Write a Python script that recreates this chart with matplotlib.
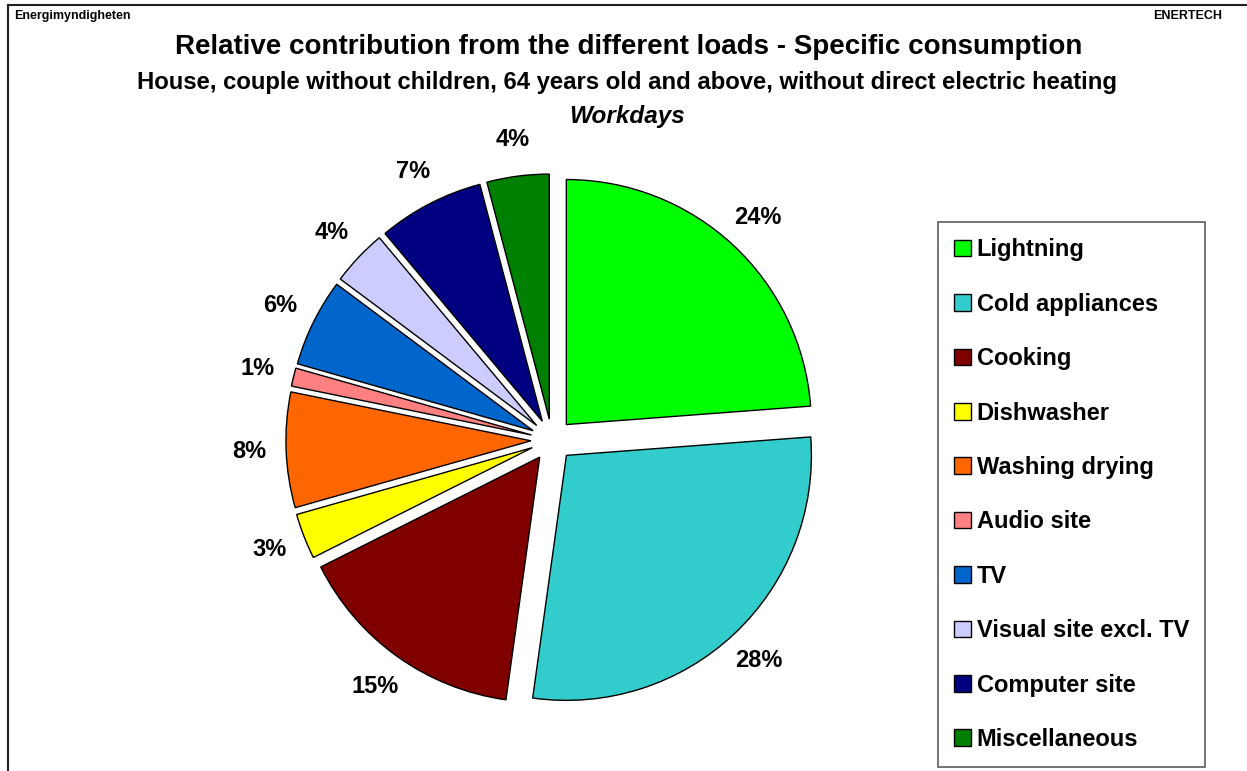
import numpy as np
import matplotlib.pyplot as plt
from matplotlib.lines import Line2D

plt.rcParams['font.family'] = ['Liberation Sans', 'DejaVu Sans']

loads = ['Lightning', 'Cold appliances', 'Cooking', 'Dishwasher', 'Washing drying',
         'Audio site', 'TV', 'Visual site excl. TV', 'Computer site', 'Miscellaneous']
# slice sizes (labels show them rounded)
shares = [23.8, 28.4, 15.4, 3.0, 7.6, 1.2, 5.8, 3.7, 7.0, 4.1]
load_colors = ['#00FF00', '#33CCCC', '#800000', '#FFFF00', '#FF6600',
               '#FF8080', '#0066CC', '#CCCCFF', '#000080', '#008000']

W, H = 1247, 771
fig = plt.figure(figsize=(W / 100, H / 100), dpi=100)

# pie centre ~ (552, 440) px, radius ~245 px
cx, cy, half = 552, 440, 300
ax = fig.add_axes([(cx - half) / W, (H - cy - half) / H, 2 * half / W, 2 * half / H])

wedges, texts, autotexts = ax.pie(
    shares, colors=load_colors, startangle=90, counterclock=False,
    explode=[0.086] * len(shares), radius=1,
    autopct='%.0f%%', pctdistance=1.15,
    wedgeprops=dict(edgecolor='black', linewidth=1.0),
    textprops=dict(fontsize=17, fontweight='bold', color='black'))

# pie() resets the limits, so set them afterwards
lim = half / 245
ax.set_xlim(-lim, lim)
ax.set_ylim(-lim, lim)
ax.set_aspect('equal')
ax.axis('off')

# titles
fig.text(629 / W, 1 - 47 / H, 'Relative contribution from the different loads - Specific consumption',
         ha='center', va='center', fontsize=20, fontweight='bold')
fig.text(627 / W, 1 - 83 / H,
         'House, couple without children, 64 years old and above, without direct electric heating',
         ha='center', va='center', fontsize=17.2, fontweight='bold')
fig.text(627 / W, 1 - 117 / H, 'Workdays', ha='center', va='center',
         fontsize=17.5, fontweight='bold', style='italic')
fig.text(14 / W, 1 - 16 / H, 'Energimyndigheten', ha='left', va='center',
         fontsize=9, fontweight='bold')
fig.text(1222 / W, 1 - 16 / H, 'ENERTECH', ha='right', va='center',
         fontsize=9, fontweight='bold')

# outer frame (left and top edges)
fig.add_artist(Line2D([8 / W, 8 / W], [0, 1 - 5 / H], transform=fig.transFigure,
                      color='#222222', linewidth=1.5))
fig.add_artist(Line2D([8 / W, 1], [1 - 5 / H, 1 - 5 / H], transform=fig.transFigure,
                      color='#222222', linewidth=1.5))

leg = fig.legend(wedges, loads, loc='upper left',
                 bbox_to_anchor=(938 / W, 1 - 222 / H),
                 prop=dict(size=17, weight='bold'),
                 frameon=True, fancybox=False, edgecolor='#333333',
                 handlelength=0.7, handleheight=0.7, handletextpad=0.25,
                 labelspacing=1.33, borderpad=0.69, borderaxespad=0)
leg.get_frame().set_linewidth(1.2)

fig.savefig('out.png', dpi=100)
